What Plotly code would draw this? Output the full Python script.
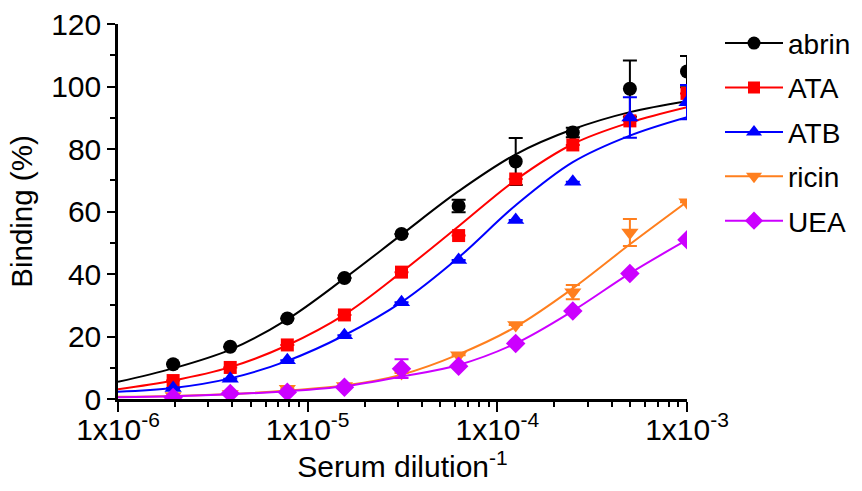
import plotly.graph_objects as go

# ---- data ----
dilution = [1.953e-6, 3.906e-6, 7.8125e-6, 1.5625e-5, 3.125e-5, 6.25e-5, 1.25e-4, 2.5e-4, 5e-4, 1e-3]
series_names = ["abrin", "ATA", "ATB", "ricin", "UEA"]

abrin = [11.1, 16.7, 25.8, 38.7, 52.8, 61.8, 76.0, 85.3, 99.3, 104.8]
abrin_err = [0, 0, 0, 0, 0, 2.0, 7.5, 1.5, 9.0, 5.0]
ata = [5.9, 10.1, 17.3, 26.9, 40.6, 52.3, 70.4, 81.3, 89.0, 97.8]
ata_err = [0, 0, 0, 0, 0, 0, 0, 0, 0, 0]
atb = [3.5, 6.5, 12.4, 20.4, 31.0, 44.5, 57.3, 69.5, 90.1, 95.0]
atb_err = [0, 0, 0, 0, 0, 0, 0, 0, 6.5, 5.5]
ricin = [1.0, 1.6, 3.3, 4.2, 8.3, 14.0, 23.7, 34.2, 53.3, 63.0]
ricin_err = [0, 0, 0, 0, 0, 0, 0, 2.3, 4.3, 0]
uea = [0.5, 1.8, 2.2, 3.8, 9.7, 10.5, 17.8, 28.2, 40.2, 51.0]
uea_err = [0, 0, 0, 0, 3.0, 0, 0, 0, 0, 0]

# fitted curves (at 1e-6 and at each dilution)
curve_x = [1e-6] + dilution
abrin_fit = [5.5, 9.8, 15.8, 25.5, 38.6, 52.6, 66.5, 78.3, 86.3, 91.8, 95.3]
ata_fit = [3.1, 5.9, 10.2, 17.2, 27.0, 40.6, 55.3, 70.1, 81.6, 88.5, 93.4]
atb_fit = [2.3, 3.5, 6.6, 12.2, 20.4, 31.0, 45.3, 62.0, 75.8, 84.3, 90.2]
ricin_fit = [0.7, 1.0, 1.6, 2.7, 4.3, 7.8, 14.3, 23.1, 35.4, 49.5, 63.1]
uea_fit = [0.6, 0.9, 1.5, 2.5, 4.1, 7.2, 10.9, 17.8, 28.2, 40.2, 50.9]

x_tickvals = [1e-6, 1e-5, 1e-4, 1e-3]
x_ticktext = ["1x10<sup>-6</sup>", "1x10<sup>-5</sup>", "1x10<sup>-4</sup>", "1x10<sup>-3</sup>"]

colors = ["#000000", "#FF0000", "#0000FF", "#FF7F1E", "#CC00FF"]
symbols = ["circle", "square", "triangle-up", "triangle-down", "diamond"]
marker_sizes = [14, 13, 15, 15, 15]

values = [abrin, ata, atb, ricin, uea]
errors = [abrin_err, ata_err, atb_err, ricin_err, uea_err]
fits = [abrin_fit, ata_fit, atb_fit, ricin_fit, uea_fit]

fig = go.Figure()
for name, col, sym, ms, y, e, f in zip(series_names, colors, symbols, marker_sizes, values, errors, fits):
    fig.add_trace(go.Scatter(
        x=curve_x, y=f, mode="lines", line=dict(color=col, width=2, shape="spline", smoothing=1.0),
        showlegend=False, hoverinfo="skip"))
    fig.add_trace(go.Scatter(
        x=dilution, y=y, mode="markers",
        marker=dict(color=col, symbol=sym, size=ms),
        error_y=dict(type="data", array=e, visible=True, color=col, thickness=2, width=7),
        showlegend=False))
    fig.add_trace(go.Scatter(
        x=[None], y=[None], mode="lines+markers", name=name, legendgroup=name,
        line=dict(color=col, width=2),
        marker=dict(color=col, symbol=sym, size=ms - 1)))

# minor tick positions for the log axis
minor_x = [m * 10 ** p for p in (-6, -5, -4) for m in range(2, 10)]

font = "Liberation Sans, Arial, sans-serif"
fig.update_layout(
    width=862, height=491,
    margin=dict(l=118, r=175, t=24, b=92, autoexpand=False),
    paper_bgcolor="white", plot_bgcolor="white",
    font=dict(family=font, size=28, color="#000000"),
    legend=dict(x=1.058, y=1.015, xanchor="left", yanchor="top",
                font=dict(size=28), bgcolor="rgba(0,0,0,0)",
                itemwidth=58, tracegroupgap=5),
    xaxis=dict(
        type="log", range=[-6, -3],
        tickmode="array", tickvals=x_tickvals, ticktext=x_ticktext,
        ticks="outside", ticklen=10, tickwidth=2, tickcolor="#000",
        showline=True, linecolor="#000", linewidth=2.5,
        showgrid=False, zeroline=False,
        tickfont=dict(size=30), ticklabelstandoff=-8,
        minor=dict(ticks="outside", ticklen=5, tickwidth=2, tickcolor="#000",
                   tickmode="array", tickvals=minor_x, showgrid=False),
        title=dict(text="Serum dilution<sup>-1</sup>", font=dict(size=30), standoff=6),
    ),
    yaxis=dict(
        range=[0, 120], tickmode="linear", tick0=0, dtick=20,
        ticks="outside", ticklen=8, tickwidth=2, tickcolor="#000",
        showline=True, linecolor="#000", linewidth=2.5,
        showgrid=False, zeroline=False,
        tickfont=dict(size=30),
        minor=dict(ticks="outside", ticklen=5, tickwidth=2, tickcolor="#000",
                   dtick=10, showgrid=False),
        title=dict(text="Binding (%)", font=dict(size=29.5), standoff=10),
    ),
)

fig.write_html("out.html")
